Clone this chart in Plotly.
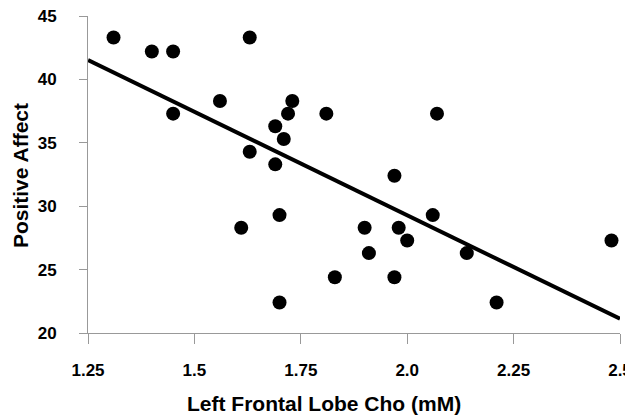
import numpy as np
import plotly.graph_objects as go

cho = [1.31, 1.40, 1.45, 1.63, 1.45, 1.56, 1.69, 1.72, 1.73, 1.81, 2.07, 1.71, 1.63, 1.69,
       1.97, 1.61, 1.70, 1.90, 1.98, 2.06, 2.00, 1.91, 2.14, 2.48, 1.83, 1.97, 1.70, 2.21]
affect = [43.3, 42.2, 42.2, 43.3, 37.3, 38.3, 36.3, 37.3, 38.3, 37.3, 37.3, 35.3, 34.3, 33.3,
          32.4, 28.3, 29.3, 28.3, 28.3, 29.3, 27.3, 26.3, 26.3, 27.3, 24.4, 24.4, 22.4, 22.4]

x_ticks = [1.25, 1.5, 1.75, 2.0, 2.25, 2.5]
x_ticklabels = ["1.25", "1.5", "1.75", "2.0", "2.25", "2.5"]
y_ticks = [20, 25, 30, 35, 40, 45]
x_title = "Left Frontal Lobe Cho (mM)"
y_title = "Positive Affect"

slope, intercept = np.polyfit(cho, affect, 1)
line_x = [1.25, 2.5]
line_y = [intercept + slope * v for v in line_x]

fig = go.Figure()
fig.add_trace(go.Scatter(x=line_x, y=line_y, mode="lines", cliponaxis=False,
                         line=dict(color="black", width=4), hoverinfo="skip"))
fig.add_trace(go.Scatter(x=cho, y=affect, mode="markers", cliponaxis=False,
                         marker=dict(color="black", size=14)))

font_family = "Liberation Sans, Arial, sans-serif"
tickfont = dict(size=17, family=font_family, color="black", weight="bold")
# page body adds an 8px offset, so the figure is sized to the remaining viewport
fig.update_layout(
    width=625, height=408,
    margin=dict(l=80, r=13, t=8, b=83),
    paper_bgcolor="white", plot_bgcolor="white",
    showlegend=False,
    font=dict(family=font_family, color="black"),
    xaxis=dict(range=[1.25, 2.5], tickvals=x_ticks, ticktext=x_ticklabels, automargin=False,
               showgrid=False, zeroline=False, showline=True, linecolor="#999999", linewidth=1,
               ticks="outside", ticklen=10, tickcolor="#999999", ticklabeloverflow="allow",
               tickfont=tickfont, ticklabelstandoff=12),
    yaxis=dict(range=[20, 45], tickvals=y_ticks, automargin=False,
               showgrid=False, zeroline=False, showline=True, linecolor="#999999", linewidth=1,
               ticks="outside", ticklen=8, tickcolor="#999999", ticklabeloverflow="allow",
               tickfont=tickfont, ticklabelstandoff=19),
    annotations=[
        dict(text="<b>" + x_title + "</b>", xref="paper", yref="paper", x=0.4436, y=-0.222,
             xanchor="center", yanchor="middle", showarrow=False,
             font=dict(size=21, family=font_family, color="black")),
        dict(text="<b>" + y_title + "</b>", xref="paper", yref="paper", x=-0.1278, y=0.495,
             xanchor="center", yanchor="middle", showarrow=False, textangle=-90,
             font=dict(size=21, family=font_family, color="black")),
    ],
)
fig.write_html("out.html")
